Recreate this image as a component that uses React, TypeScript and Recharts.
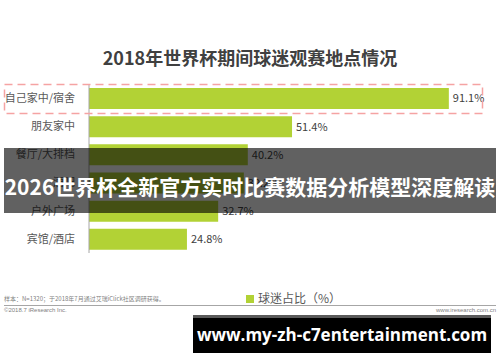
import React from 'react';
import { Bar, BarChart, LabelList, Legend, XAxis, YAxis } from 'recharts';

const places = ['自己家中/宿舍', '朋友家中', '餐厅/大排档', '酒吧', '户外广场', '宾馆/酒店'];
const share = [91.1, 51.4, 40.2, 39.2, 32.7, 24.8];
const seriesName = '球迷占比（%）';

const data = places.map((place, i) => ({ place, share: share[i] }));

const cjk = '"Noto Sans CJK SC", "Noto Sans", sans-serif';

const App = () => {
    return (
        <div style={{ position: 'absolute', left: 0, top: 0, width: 500, height: 362, background: '#fff', fontFamily: cjk, overflow: 'hidden' }}>
            <div style={{ position: 'absolute', top: 44, left: 0, width: 500, textAlign: 'center', fontSize: 18, fontWeight: 700, color: '#404040' }}>
                2018年世界杯期间球迷观赛地点情况
            </div>
            <BarChart
                width={500}
                height={362}
                layout="vertical"
                data={data}
                barSize={21}
                margin={{ top: 84, right: 16, bottom: 85, left: 4 }}
                style={{ position: 'absolute', left: 0, top: 0 }}
            >
                <XAxis type="number" domain={[0, 100]} hide />
                <YAxis
                    type="category"
                    dataKey="place"
                    width={85}
                    tickLine={false}
                    axisLine={{ stroke: '#a6a6a6' }}
                    tick={{ fill: '#595959', fontSize: 11, fontFamily: cjk }}
                    tickMargin={8}
                />
                <Legend
                    verticalAlign="bottom"
                    align="left"
                    iconType="square"
                    iconSize={8}
                    wrapperStyle={{ position: 'absolute', left: 246, top: 284, width: 120, bottom: 'auto' }}
                    formatter={(v: string) => <span style={{ color: '#595959', fontSize: 12 }}>{v}</span>}
                />
                <Bar dataKey="share" name={seriesName} fill="#b2d235" isAnimationActive={false}>
                    <LabelList
                        dataKey="share"
                        position="right"
                        offset={4}
                        formatter={(v: number) => v.toFixed(1) + '%'}
                        style={{ fill: '#404040', fontSize: 11, fontFamily: cjk }}
                    />
                </Bar>
            </BarChart>
            <svg width={500} height={362} style={{ position: 'absolute', left: 0, top: 0, pointerEvents: 'none' }}>
                <rect x={4.5} y={84.5} width={478} height={29} fill="none" stroke="#f5a3a3" strokeWidth={1.5} strokeDasharray="8 5" />
                <line x1={4} x2={496} y1={305.5} y2={305.5} stroke="#a6a6a6" strokeWidth={1} />
            </svg>
            <div style={{ position: 'absolute', left: 4, top: 294, fontSize: 6, color: '#7f7f7f', whiteSpace: 'nowrap' }}>
                样本：N=1320；于2018年7月通过艾瑞iClick社区调研获得。
            </div>
            <div style={{ position: 'absolute', left: 4, top: 307, fontSize: 6, color: '#7f7f7f', fontFamily: 'Arial, "Liberation Sans", sans-serif' }}>
                ©2018.7 iResearch Inc.
            </div>
            <div style={{ position: 'absolute', right: 4, top: 307, fontSize: 6, color: '#7f7f7f', fontFamily: 'Arial, "Liberation Sans", sans-serif' }}>
                www.iresearch.com.cn
            </div>
            <div style={{ position: 'absolute', left: 4, top: 148, width: 492, height: 65, background: 'rgba(0,0,0,0.62)' }} />
            <div style={{ position: 'absolute', left: 0, top: 170, width: 500, textAlign: 'center', color: '#fff', fontSize: 21, fontWeight: 700, whiteSpace: 'nowrap', lineHeight: '32px' }}>
                2026世界杯全新官方实时比赛数据分析模型深度解读
            </div>
            <div style={{ position: 'absolute', left: 193, top: 315, width: 298, height: 38, background: '#000', borderTop: '3px solid #5a5a5a', boxSizing: 'border-box', color: '#fff', fontSize: 17, fontWeight: 700, textAlign: 'center', lineHeight: '34px', fontFamily: '"Open Sans", "DejaVu Sans", sans-serif' }}>
                www.my-zh-c7entertainment.com
            </div>
        </div>
    );
};

export default App;
